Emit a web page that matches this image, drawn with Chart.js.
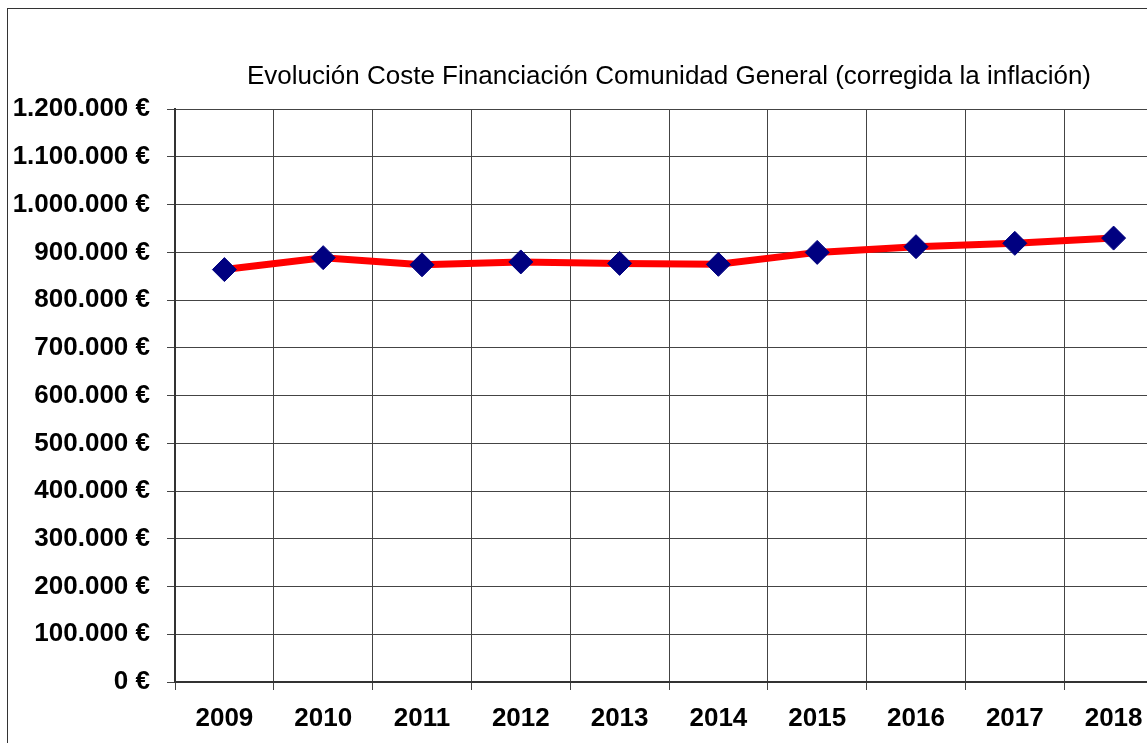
<!DOCTYPE html>
<html lang="es">
<head>
<meta charset="UTF-8">
<style>
    html, body { margin: 0; padding: 0; background: #fff; overflow: hidden; }
    .frame {
        position: absolute; left: 7px; top: 8px; width: 1200px; height: 800px;
        border-left: 1px solid #333; border-top: 1px solid #333;
    }
    .wrap { position: absolute; left: 0; top: 0; width: 1176px; height: 743px; }
</style>
</head>
<body>
<div class="frame"></div>
<div class="wrap"><canvas id="chart"></canvas></div>

<script src="https://cdn.jsdelivr.net/npm/chart.js"></script>
<script>
    const years = ['2009', '2010', '2011', '2012', '2013', '2014', '2015', '2016', '2017', '2018'];
    const coste = [864000, 889000, 874000, 880000, 877000, 875000, 900000, 912000, 919000, 930000];
    const titleText = 'Evolución Coste Financiación Comunidad General (corregida la inflación)';

    function euros(v) {
        return String(v).replace(/\B(?=(\d{3})+(?!\d))/g, '.') + ' €';
    }

    new Chart(document.getElementById('chart'), {
        type: 'line',
        data: {
            labels: years,
            datasets: [{
                data: coste,
                borderColor: '#ff0000',
                borderWidth: 7,
                tension: 0,
                pointStyle: 'rectRot',
                pointRadius: 12,
                pointHoverRadius: 12,
                pointBackgroundColor: '#000080',
                pointBorderColor: '#000080',
                pointBorderWidth: 1
            }]
        },
        options: {
            responsive: true,
            maintainAspectRatio: false,
            animation: false,
            layout: { padding: { left: 0, right: 8, top: 0, bottom: 0 } },
            plugins: {
                legend: { display: false },
                tooltip: { enabled: false },
                title: {
                    display: true,
                    text: titleText,
                    fullSize: false,
                    color: '#000',
                    font: { family: '"Liberation Sans", Arial, sans-serif', size: 26, weight: 'normal' },
                    padding: { top: 61, bottom: 17 }
                }
            },
            scales: {
                x: {
                    offset: true,
                    grid: { offset: true, color: '#444', lineWidth: 1, tickLength: 8 },
                    border: { color: '#333', width: 2 },
                    ticks: {
                        color: '#000',
                        padding: 13,
                        maxRotation: 0,
                        font: { family: '"Liberation Sans", Arial, sans-serif', size: 26, weight: 'bold' }
                    },
                    afterFit: s => { s.height = 61; }
                },
                y: {
                    min: 0,
                    max: 1200000,
                    grid: { color: '#444', lineWidth: 1, tickLength: 8 },
                    border: { color: '#333', width: 2 },
                    ticks: {
                        stepSize: 100000,
                        color: '#000',
                        padding: 17,
                        font: { family: '"Liberation Sans", Arial, sans-serif', size: 26, weight: 'bold' },
                        callback: v => euros(v)
                    },
                    afterFit: s => { s.width = 175; }
                }
            }
        }
    });
</script>
</body>
</html>
